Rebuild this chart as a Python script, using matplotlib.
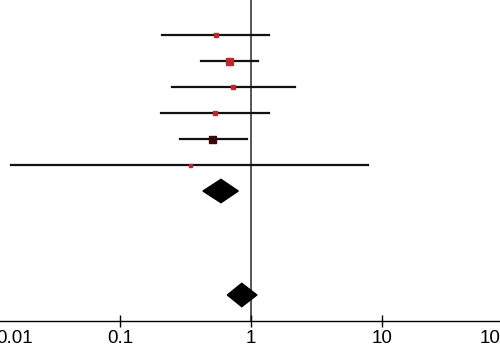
import numpy as np
import matplotlib
matplotlib.use('Agg')
import matplotlib.pyplot as plt

# study estimates (odds ratios with 95% CI)
est   = [0.54, 0.68, 0.73, 0.53, 0.50, 0.34]
lower = [0.21, 0.415, 0.25, 0.205, 0.287, 0.0147]
upper = [1.37, 1.13, 2.17, 1.37, 0.93, 7.8]
weight = [5, 7, 5, 5, 7, 3]          # marker size (px) ~ study weight
mcolor = ['#c0262b', '#c0262b', '#c0262b', '#c0262b', '#3a0808', '#c0262b']

# pooled estimates (diamonds)
pooled_est   = [0.59, 0.85]
pooled_lower = [0.43, 0.66]
pooled_upper = [0.80, 1.11]
pooled_row   = [7, 11]

ticks = [0.1, 1, 10]
ticklabels = ['0.1', '1', '10']
edge_labels = ['0.01', '100']   # end labels, partly cut off by the frame

plt.rcParams['font.family'] = ['Liberation Sans', 'DejaVu Sans']

fig = plt.figure(figsize=(5, 3.53), dpi=100)
ax = fig.add_axes([0, 0.0907, 1, 0.9093])

rows = np.arange(1, len(est) + 1)

# no-effect line
ax.plot([1, 1], [-1, 12], color='#555555', linewidth=1.4, zorder=1)

# confidence intervals and point estimates
for r, e, lo, hi, w, c in zip(rows, est, lower, upper, weight, mcolor):
    ax.plot([lo, hi], [r, r], color='#111111', linewidth=1.6, zorder=2)
    ax.plot([e], [r], marker='s', markersize=w * 0.72, color=c,
            linestyle='none', zorder=3)

# pooled diamonds
h = 0.45
for r, e, lo, hi in zip(pooled_row, pooled_est, pooled_lower, pooled_upper):
    ax.fill([lo, e, hi, e], [r, r - h, r, r + h], color='black', zorder=3)

ax.set_xscale('log')
ax.set_xticks(ticks)
ax.set_xticklabels(ticklabels)
ax.set_xlim(10 ** -1.916, 10 ** 1.901)   # after set_xticks, which widens limits
ax.set_ylim(12, -0.35)

ax.xaxis.set_minor_locator(matplotlib.ticker.NullLocator())
ax.tick_params(axis='x', direction='inout', length=8.6, width=1,
               labelsize=13.5, pad=2.5)
ax.set_yticks([])
for s in ['top', 'left', 'right']:
    ax.spines[s].set_visible(False)
ax.spines['bottom'].set_linewidth(1)

# the two outer labels sit at the edges of the picture
ax.annotate(edge_labels[0], xy=(0.066, 0), xycoords='axes fraction',
            xytext=(0, -6.8), textcoords='offset points',
            ha='right', va='top', fontsize=13.5, annotation_clip=False)
ax.annotate(edge_labels[1], xy=(0.96, 0), xycoords='axes fraction',
            xytext=(0, -6.8), textcoords='offset points',
            ha='left', va='top', fontsize=13.5, annotation_clip=False)

fig.savefig('out.png', dpi=100)
